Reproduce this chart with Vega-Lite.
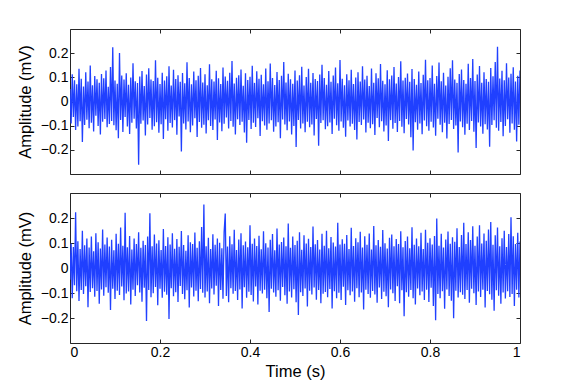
{
"$schema": "https://vega.github.io/schema/vega-lite/v6.json",
"padding": {"left": 17, "top": 28, "right": 30, "bottom": 0},
"background": "white",
"config": {
  "font": "Liberation Sans",
  "view": {"stroke": null},
  "axis": {"labelFont": "Liberation Sans", "labelFontSize": 14, "labelColor": "#000000", "titleFont": "Liberation Sans", "titleFontSize": 16.5, "titleFontWeight": "normal", "titleColor": "#000000", "domainColor": "#262626", "domainWidth": 1, "tickColor": "#262626", "tickSize": -4, "grid": false, "labelPadding": 6}
},
"data": {"values": [
{"t":0,"a":0.052,"b":-0.047},{"t":0.0025,"a":-0.091,"b":0.098},{"t":0.005,"a":0.113,"b":-0.121},{"t":0.0075,"a":-0.064,"b":0.084},
{"t":0.01,"a":0.088,"b":-0.069},{"t":0.0125,"a":-0.118,"b":0.223},{"t":0.015,"a":0.071,"b":-0.093},{"t":0.0175,"a":-0.103,"b":0.107},
{"t":0.02,"a":0.135,"b":-0.132},{"t":0.0225,"a":-0.082,"b":0.076},{"t":0.025,"a":0.094,"b":-0.088},{"t":0.0275,"a":-0.168,"b":0.149},
{"t":0.03,"a":0.062,"b":-0.104},{"t":0.0325,"a":-0.097,"b":0.091},{"t":0.035,"a":0.121,"b":-0.073},{"t":0.0375,"a":-0.075,"b":0.118},
{"t":0.04,"a":0.083,"b":-0.157},{"t":0.0425,"a":-0.111,"b":0.082},{"t":0.045,"a":0.149,"b":-0.096},{"t":0.0475,"a":-0.088,"b":0.126},
{"t":0.05,"a":0.067,"b":-0.081},{"t":0.0525,"a":-0.124,"b":0.067},{"t":0.055,"a":0.105,"b":-0.115},{"t":0.0575,"a":-0.059,"b":0.139},
{"t":0.06,"a":0.092,"b":-0.092},{"t":0.0625,"a":-0.101,"b":0.103},{"t":0.065,"a":0.078,"b":-0.143},{"t":0.0675,"a":-0.137,"b":0.078},
{"t":0.07,"a":0.114,"b":-0.086},{"t":0.0725,"a":-0.084,"b":0.154},{"t":0.075,"a":0.096,"b":-0.111},{"t":0.0775,"a":-0.072,"b":0.094},
{"t":0.08,"a":0.128,"b":-0.077},{"t":0.0825,"a":-0.106,"b":0.122},{"t":0.085,"a":0.061,"b":-0.099},{"t":0.0875,"a":-0.093,"b":0.086},
{"t":0.09,"a":0.143,"b":-0.168},{"t":0.0925,"a":-0.081,"b":0.113},{"t":0.095,"a":0.224,"b":-0.083},{"t":0.0975,"a":-0.098,"b":0.071},
{"t":0.1,"a":0.087,"b":-0.124},{"t":0.1025,"a":-0.119,"b":0.137},{"t":0.105,"a":0.073,"b":-0.091},{"t":0.1075,"a":-0.152,"b":0.097},
{"t":0.11,"a":0.201,"b":-0.108},{"t":0.1125,"a":-0.077,"b":0.162},{"t":0.115,"a":0.108,"b":-0.074},{"t":0.1175,"a":-0.126,"b":0.089},
{"t":0.12,"a":0.091,"b":-0.129},{"t":0.1225,"a":-0.064,"b":0.221},{"t":0.125,"a":0.117,"b":-0.102},{"t":0.1275,"a":-0.103,"b":0.083},
{"t":0.13,"a":0.069,"b":-0.094},{"t":0.1325,"a":-0.134,"b":0.128},{"t":0.135,"a":0.099,"b":-0.146},{"t":0.1375,"a":-0.088,"b":0.074},
{"t":0.14,"a":0.158,"b":-0.087},{"t":0.1425,"a":-0.071,"b":0.118},{"t":0.145,"a":0.084,"b":-0.112},{"t":0.1475,"a":-0.112,"b":0.096},
{"t":0.15,"a":0.076,"b":-0.069},{"t":0.1525,"a":-0.262,"b":0.143},{"t":0.155,"a":0.103,"b":-0.098},{"t":0.1575,"a":-0.092,"b":0.081},
{"t":0.16,"a":0.126,"b":-0.135},{"t":0.1625,"a":-0.079,"b":0.109},{"t":0.165,"a":0.064,"b":-0.079},{"t":0.1675,"a":-0.141,"b":0.092},
{"t":0.17,"a":0.112,"b":-0.212},{"t":0.1725,"a":-0.095,"b":0.126},{"t":0.175,"a":0.138,"b":-0.088},{"t":0.1775,"a":-0.068,"b":0.219},
{"t":0.18,"a":0.091,"b":-0.117},{"t":0.1825,"a":-0.117,"b":0.087},{"t":0.185,"a":0.085,"b":-0.101},{"t":0.1875,"a":-0.102,"b":0.134},
{"t":0.19,"a":0.171,"b":-0.076},{"t":0.1925,"a":-0.086,"b":0.098},{"t":0.195,"a":0.098,"b":-0.149},{"t":0.1975,"a":-0.129,"b":0.111},
{"t":0.2,"a":0.072,"b":-0.083},{"t":0.2025,"a":-0.094,"b":0.072},{"t":0.205,"a":0.119,"b":-0.119},{"t":0.2075,"a":-0.155,"b":0.156},
{"t":0.21,"a":0.087,"b":-0.095},{"t":0.2125,"a":-0.073,"b":0.088},{"t":0.215,"a":0.104,"b":-0.107},{"t":0.2175,"a":-0.121,"b":0.123},
{"t":0.22,"a":0.146,"b":-0.204},{"t":0.2225,"a":-0.089,"b":0.094},{"t":0.225,"a":0.066,"b":-0.081},{"t":0.2275,"a":-0.108,"b":0.139},
{"t":0.23,"a":0.131,"b":-0.113},{"t":0.2325,"a":-0.077,"b":0.077},{"t":0.235,"a":0.093,"b":-0.097},{"t":0.2375,"a":-0.138,"b":0.116},
{"t":0.24,"a":0.109,"b":-0.136},{"t":0.2425,"a":-0.062,"b":0.085},{"t":0.245,"a":0.082,"b":-0.072},{"t":0.2475,"a":-0.207,"b":0.148},
{"t":0.25,"a":0.118,"b":-0.104},{"t":0.2525,"a":-0.091,"b":0.092},{"t":0.255,"a":0.075,"b":-0.125},{"t":0.2575,"a":-0.116,"b":0.069},
{"t":0.26,"a":0.162,"b":-0.089},{"t":0.2625,"a":-0.083,"b":0.131},{"t":0.265,"a":0.097,"b":-0.158},{"t":0.2675,"a":-0.127,"b":0.103},
{"t":0.27,"a":0.071,"b":-0.078},{"t":0.2725,"a":-0.099,"b":0.096},{"t":0.275,"a":0.124,"b":-0.114},{"t":0.2775,"a":-0.069,"b":0.142},
{"t":0.28,"a":0.088,"b":-0.091},{"t":0.2825,"a":-0.147,"b":0.081},{"t":0.285,"a":0.106,"b":-0.133},{"t":0.2875,"a":-0.085,"b":0.107},
{"t":0.29,"a":0.139,"b":-0.084},{"t":0.2925,"a":-0.109,"b":0.164},{"t":0.295,"a":0.079,"b":-0.099},{"t":0.2975,"a":-0.096,"b":0.254},
{"t":0.3,"a":0.113,"b":-0.118},{"t":0.3025,"a":-0.132,"b":0.087},{"t":0.305,"a":0.067,"b":-0.094},{"t":0.3075,"a":-0.078,"b":0.121},
{"t":0.31,"a":0.154,"b":-0.141},{"t":0.3125,"a":-0.101,"b":0.076},{"t":0.315,"a":0.092,"b":-0.082},{"t":0.3175,"a":-0.118,"b":0.135},
{"t":0.32,"a":0.083,"b":-0.106},{"t":0.3225,"a":-0.074,"b":0.093},{"t":0.325,"a":0.127,"b":-0.071},{"t":0.3275,"a":-0.159,"b":0.118},
{"t":0.33,"a":0.096,"b":-0.152},{"t":0.3325,"a":-0.087,"b":0.101},{"t":0.335,"a":0.072,"b":-0.088},{"t":0.3375,"a":-0.123,"b":0.079},
{"t":0.34,"a":0.141,"b":-0.123},{"t":0.3425,"a":-0.092,"b":0.144},{"t":0.345,"a":0.103,"b":0.218},{"t":0.3475,"a":-0.066,"b":-0.112},
{"t":0.35,"a":0.086,"b":0.086},{"t":0.3525,"a":-0.112,"b":-0.137},{"t":0.355,"a":0.119,"b":0.127},{"t":0.3575,"a":-0.081,"b":-0.081},
{"t":0.36,"a":0.168,"b":0.095},{"t":0.3625,"a":-0.104,"b":-0.103},{"t":0.365,"a":0.074,"b":0.153},{"t":0.3675,"a":-0.136,"b":-0.092},
{"t":0.37,"a":0.098,"b":0.072},{"t":0.3725,"a":-0.073,"b":-0.128},{"t":0.375,"a":0.109,"b":0.114},{"t":0.3775,"a":-0.097,"b":-0.086},
{"t":0.38,"a":0.132,"b":0.139},{"t":0.3825,"a":-0.084,"b":-0.162},{"t":0.385,"a":0.065,"b":0.091},{"t":0.3875,"a":-0.128,"b":-0.077},
{"t":0.39,"a":0.117,"b":0.106},{"t":0.3925,"a":-0.171,"b":-0.119},{"t":0.395,"a":0.089,"b":0.083},{"t":0.3975,"a":-0.076,"b":-0.095},
{"t":0.4,"a":0.102,"b":0.171},{"t":0.4025,"a":-0.114,"b":-0.108},{"t":0.405,"a":0.148,"b":0.097},{"t":0.4075,"a":-0.088,"b":-0.134},
{"t":0.41,"a":0.077,"b":0.118},{"t":0.4125,"a":-0.105,"b":-0.074},{"t":0.415,"a":0.125,"b":0.088},{"t":0.4175,"a":-0.069,"b":-0.146},
{"t":0.42,"a":0.094,"b":0.129},{"t":0.4225,"a":-0.143,"b":-0.091},{"t":0.425,"a":0.111,"b":0.075},{"t":0.4275,"a":-0.082,"b":-0.102},
{"t":0.43,"a":0.071,"b":0.147},{"t":0.4325,"a":-0.099,"b":-0.087},{"t":0.435,"a":0.136,"b":0.099},{"t":0.4375,"a":-0.117,"b":-0.121},
{"t":0.44,"a":0.084,"b":0.082},{"t":0.4425,"a":-0.091,"b":-0.176},{"t":0.445,"a":0.157,"b":0.113},{"t":0.4475,"a":-0.078,"b":-0.083},
{"t":0.45,"a":0.097,"b":0.136},{"t":0.4525,"a":-0.125,"b":-0.098},{"t":0.455,"a":0.068,"b":0.071},{"t":0.4575,"a":-0.103,"b":-0.115},
{"t":0.46,"a":0.122,"b":0.158},{"t":0.4625,"a":-0.086,"b":-0.089},{"t":0.465,"a":0.089,"b":0.094},{"t":0.4675,"a":-0.152,"b":-0.131},
{"t":0.47,"a":0.106,"b":0.104},{"t":0.4725,"a":-0.074,"b":-0.076},{"t":0.475,"a":0.163,"b":0.122},{"t":0.4775,"a":-0.095,"b":-0.109},
{"t":0.48,"a":0.079,"b":0.087},{"t":0.4825,"a":-0.119,"b":-0.143},{"t":0.485,"a":0.115,"b":0.178},{"t":0.4875,"a":-0.083,"b":-0.094},
{"t":0.49,"a":0.092,"b":0.081},{"t":0.4925,"a":-0.137,"b":-0.118},{"t":0.495,"a":0.073,"b":0.126},{"t":0.4975,"a":-0.101,"b":-0.085},
{"t":0.5,"a":0.128,"b":0.092},{"t":0.5025,"a":-0.188,"b":-0.137},{"t":0.505,"a":0.087,"b":0.109},{"t":0.5075,"a":-0.076,"b":-0.188},
{"t":0.51,"a":0.109,"b":0.143},{"t":0.5125,"a":-0.112,"b":-0.097},{"t":0.515,"a":0.144,"b":0.073},{"t":0.5175,"a":-0.091,"b":-0.112},
{"t":0.52,"a":0.066,"b":0.131},{"t":0.5225,"a":-0.127,"b":-0.082},{"t":0.525,"a":0.101,"b":0.098},{"t":0.5275,"a":-0.084,"b":-0.154},
{"t":0.53,"a":0.135,"b":0.117},{"t":0.5325,"a":-0.106,"b":-0.091},{"t":0.535,"a":0.078,"b":0.084},{"t":0.5375,"a":-0.095,"b":-0.106},
{"t":0.54,"a":0.118,"b":0.166},{"t":0.5425,"a":-0.141,"b":-0.078},{"t":0.545,"a":0.093,"b":0.095},{"t":0.5475,"a":-0.072,"b":-0.127},
{"t":0.55,"a":0.085,"b":0.112},{"t":0.5525,"a":-0.183,"b":-0.088},{"t":0.555,"a":0.112,"b":0.074},{"t":0.5575,"a":-0.089,"b":-0.141},
{"t":0.56,"a":0.152,"b":0.137},{"t":0.5625,"a":-0.078,"b":-0.103},{"t":0.565,"a":0.097,"b":0.089},{"t":0.5675,"a":-0.115,"b":-0.096},
{"t":0.57,"a":0.069,"b":0.149},{"t":0.5725,"a":-0.102,"b":-0.117},{"t":0.575,"a":0.126,"b":0.079},{"t":0.5775,"a":-0.087,"b":-0.084},
{"t":0.58,"a":0.082,"b":0.124},{"t":0.5825,"a":-0.134,"b":-0.162},{"t":0.585,"a":0.108,"b":0.102},{"t":0.5875,"a":-0.071,"b":-0.093},
{"t":0.59,"a":0.141,"b":0.086},{"t":0.5925,"a":-0.098,"b":-0.121},{"t":0.595,"a":0.075,"b":0.181},{"t":0.5975,"a":-0.121,"b":-0.099},
{"t":0.6,"a":0.172,"b":0.094},{"t":0.6025,"a":-0.083,"b":-0.128},{"t":0.605,"a":0.094,"b":0.115},{"t":0.6075,"a":-0.109,"b":-0.075},
{"t":0.61,"a":0.067,"b":0.097},{"t":0.6125,"a":-0.146,"b":-0.148},{"t":0.615,"a":0.113,"b":0.132},{"t":0.6175,"a":-0.079,"b":-0.089},
{"t":0.62,"a":0.088,"b":0.076},{"t":0.6225,"a":-0.103,"b":-0.109},{"t":0.625,"a":0.131,"b":0.161},{"t":0.6275,"a":-0.092,"b":-0.094},
{"t":0.63,"a":0.072,"b":0.088},{"t":0.6325,"a":-0.118,"b":-0.135},{"t":0.635,"a":0.099,"b":0.119},{"t":0.6375,"a":-0.157,"b":-0.081},
{"t":0.64,"a":0.121,"b":0.103},{"t":0.6425,"a":-0.085,"b":-0.117},{"t":0.645,"a":0.083,"b":0.145},{"t":0.6475,"a":-0.097,"b":-0.098},
{"t":0.65,"a":0.146,"b":0.082},{"t":0.6525,"a":-0.074,"b":-0.166},{"t":0.655,"a":0.091,"b":0.127},{"t":0.6575,"a":-0.128,"b":-0.087},
{"t":0.66,"a":0.106,"b":0.093},{"t":0.6625,"a":-0.088,"b":-0.104},{"t":0.665,"a":0.064,"b":0.138},{"t":0.6675,"a":-0.111,"b":-0.119},
{"t":0.67,"a":0.137,"b":0.074},{"t":0.6725,"a":-0.094,"b":-0.092},{"t":0.675,"a":0.078,"b":0.168},{"t":0.6775,"a":-0.139,"b":-0.106},
{"t":0.68,"a":0.117,"b":0.091},{"t":0.6825,"a":-0.068,"b":-0.139},{"t":0.685,"a":0.096,"b":0.112},{"t":0.6875,"a":-0.107,"b":-0.078},
{"t":0.69,"a":0.155,"b":0.085},{"t":0.6925,"a":-0.082,"b":-0.124},{"t":0.695,"a":0.086,"b":0.152},{"t":0.6975,"a":-0.124,"b":-0.095},
{"t":0.7,"a":0.071,"b":0.099},{"t":0.7025,"a":-0.099,"b":-0.113},{"t":0.705,"a":0.129,"b":0.078},{"t":0.7075,"a":-0.163,"b":-0.157},
{"t":0.71,"a":0.092,"b":0.121},{"t":0.7125,"a":-0.077,"b":-0.086},{"t":0.715,"a":0.108,"b":0.134},{"t":0.7175,"a":-0.113,"b":-0.101},
{"t":0.72,"a":0.143,"b":0.087},{"t":0.7225,"a":-0.089,"b":-0.132},{"t":0.725,"a":0.074,"b":0.116},{"t":0.7275,"a":-0.126,"b":-0.073},
{"t":0.73,"a":0.101,"b":0.096},{"t":0.7325,"a":-0.081,"b":-0.141},{"t":0.735,"a":0.166,"b":0.147},{"t":0.7375,"a":-0.104,"b":-0.089},
{"t":0.74,"a":0.087,"b":0.083},{"t":0.7425,"a":-0.131,"b":-0.193},{"t":0.745,"a":0.098,"b":0.108},{"t":0.7475,"a":-0.072,"b":-0.097},
{"t":0.75,"a":0.116,"b":0.126},{"t":0.7525,"a":-0.095,"b":-0.115},{"t":0.755,"a":0.082,"b":0.079},{"t":0.7575,"a":-0.148,"b":-0.088},
{"t":0.76,"a":0.134,"b":0.163},{"t":0.7625,"a":-0.203,"b":-0.121},{"t":0.765,"a":0.093,"b":0.093},{"t":0.7675,"a":-0.086,"b":-0.146},
{"t":0.77,"a":0.069,"b":0.118},{"t":0.7725,"a":-0.117,"b":-0.082},{"t":0.775,"a":0.124,"b":0.087},{"t":0.7775,"a":-0.091,"b":-0.109},
{"t":0.78,"a":0.076,"b":0.141},{"t":0.7825,"a":-0.135,"b":-0.094},{"t":0.785,"a":0.111,"b":0.076},{"t":0.7875,"a":-0.079,"b":-0.128},
{"t":0.79,"a":0.173,"b":0.153},{"t":0.7925,"a":-0.102,"b":-0.087},{"t":0.795,"a":0.088,"b":0.101},{"t":0.7975,"a":-0.121,"b":-0.136},
{"t":0.8,"a":0.097,"b":0.119},{"t":0.8025,"a":-0.084,"b":-0.079},{"t":0.805,"a":0.149,"b":0.094},{"t":0.8075,"a":-0.108,"b":-0.152},
{"t":0.81,"a":0.073,"b":0.128},{"t":0.8125,"a":-0.142,"b":-0.209},{"t":0.815,"a":0.105,"b":0.198},{"t":0.8175,"a":-0.071,"b":-0.104},
{"t":0.82,"a":0.161,"b":0.089},{"t":0.8225,"a":-0.096,"b":-0.121},{"t":0.825,"a":0.084,"b":0.137},{"t":0.8275,"a":-0.127,"b":-0.093},
{"t":0.83,"a":0.119,"b":0.082},{"t":0.8325,"a":-0.088,"b":-0.163},{"t":0.835,"a":0.066,"b":0.114},{"t":0.8375,"a":-0.153,"b":-0.086},
{"t":0.84,"a":0.102,"b":0.146},{"t":0.8425,"a":-0.093,"b":-0.112},{"t":0.845,"a":0.138,"b":0.097},{"t":0.8475,"a":-0.076,"b":-0.131},
{"t":0.85,"a":0.171,"b":0.123},{"t":0.8525,"a":-0.114,"b":-0.201},{"t":0.855,"a":0.091,"b":0.105},{"t":0.8575,"a":-0.099,"b":-0.091},
{"t":0.86,"a":0.077,"b":0.159},{"t":0.8625,"a":-0.211,"b":-0.118},{"t":0.865,"a":0.114,"b":0.084},{"t":0.8675,"a":-0.083,"b":-0.097},
{"t":0.87,"a":0.132,"b":0.132},{"t":0.8725,"a":-0.106,"b":-0.107},{"t":0.875,"a":0.089,"b":0.181},{"t":0.8775,"a":-0.138,"b":-0.124},
{"t":0.88,"a":0.073,"b":0.096},{"t":0.8825,"a":-0.092,"b":-0.088},{"t":0.885,"a":0.156,"b":0.143},{"t":0.8875,"a":-0.118,"b":-0.139},
{"t":0.89,"a":0.097,"b":0.112},{"t":0.8925,"a":-0.081,"b":-0.083},{"t":0.895,"a":0.176,"b":0.167},{"t":0.8975,"a":-0.125,"b":-0.101},
{"t":0.9,"a":0.085,"b":0.089},{"t":0.9025,"a":-0.192,"b":-0.148},{"t":0.905,"a":0.112,"b":0.126},{"t":0.9075,"a":-0.087,"b":-0.094},
{"t":0.91,"a":0.147,"b":0.171},{"t":0.9125,"a":-0.103,"b":-0.116},{"t":0.915,"a":0.078,"b":0.098},{"t":0.9175,"a":-0.133,"b":-0.087},
{"t":0.92,"a":0.121,"b":0.138},{"t":0.9225,"a":-0.094,"b":-0.158},{"t":0.925,"a":0.093,"b":0.109},{"t":0.9275,"a":-0.116,"b":-0.092},
{"t":0.93,"a":0.082,"b":0.154},{"t":0.9325,"a":-0.187,"b":-0.105},{"t":0.935,"a":0.139,"b":0.184},{"t":0.9375,"a":-0.097,"b":-0.127},
{"t":0.94,"a":0.104,"b":0.093},{"t":0.9425,"a":-0.078,"b":-0.171},{"t":0.945,"a":0.163,"b":0.131},{"t":0.9475,"a":-0.109,"b":-0.089},
{"t":0.95,"a":0.226,"b":0.162},{"t":0.9525,"a":-0.121,"b":-0.111},{"t":0.955,"a":0.095,"b":0.087},{"t":0.9575,"a":-0.085,"b":-0.143},
{"t":0.96,"a":0.127,"b":0.119},{"t":0.9625,"a":-0.144,"b":-0.098},{"t":0.965,"a":0.088,"b":0.149},{"t":0.9675,"a":-0.101,"b":-0.122},
{"t":0.97,"a":0.158,"b":0.084},{"t":0.9725,"a":-0.073,"b":-0.093},{"t":0.975,"a":0.099,"b":0.136},{"t":0.9775,"a":-0.129,"b":-0.116},
{"t":0.98,"a":0.115,"b":0.203},{"t":0.9825,"a":-0.091,"b":-0.104},{"t":0.985,"a":0.142,"b":0.127},{"t":0.9875,"a":-0.117,"b":-0.152},
{"t":0.99,"a":0.083,"b":0.096},{"t":0.9925,"a":-0.165,"b":-0.087},{"t":0.995,"a":0.107,"b":0.141},{"t":0.9975,"a":-0.096,"b":-0.118},
{"t":1,"a":0.128,"b":0.106}
]},
"spacing": 17,
"vconcat": [
  {"width": 450, "height": 145,
   "layer": [
     {"mark": {"type": "line", "color": "#2040ff", "strokeWidth": 1.3, "clip": true},
      "encoding": {
        "x": {"field": "t", "type": "quantitative", "scale": {"domain": [0, 1], "nice": false, "zero": false}, "axis": {"orient": "bottom", "values": [0, 0.2, 0.4, 0.6, 0.8, 1], "labels": false, "title": null}},
        "y": {"field": "a", "type": "quantitative", "scale": {"domain": [-0.3, 0.3], "nice": false, "zero": false}, "axis": {"orient": "left", "values": [-0.2, -0.1, 0, 0.1, 0.2], "format": "~g", "title": "Amplitude (mV)", "titlePadding": 7}}
      }},
     {"mark": {"type": "line", "opacity": 0},
      "encoding": {
        "x": {"field": "t", "type": "quantitative", "scale": {"domain": [0, 1], "nice": false, "zero": false}, "axis": {"orient": "top", "values": [0, 0.2, 0.4, 0.6, 0.8, 1], "labels": false, "title": null}},
        "y": {"field": "a", "type": "quantitative", "scale": {"domain": [-0.3, 0.3], "nice": false, "zero": false}, "axis": {"orient": "right", "values": [-0.2, -0.1, 0, 0.1, 0.2], "labels": false, "title": null}}
      }}
   ],
   "resolve": {"axis": {"x": "independent", "y": "independent"}}
  },
  {"width": 450, "height": 150,
   "layer": [
     {"mark": {"type": "line", "color": "#2040ff", "strokeWidth": 1.3, "clip": true},
      "encoding": {
        "x": {"field": "t", "type": "quantitative", "scale": {"domain": [0, 1], "nice": false, "zero": false}, "axis": {"orient": "bottom", "values": [0, 0.2, 0.4, 0.6, 0.8, 1], "format": "~g", "title": "Time (s)", "titlePadding": 4}},
        "y": {"field": "b", "type": "quantitative", "scale": {"domain": [-0.3, 0.3], "nice": false, "zero": false}, "axis": {"orient": "left", "values": [-0.2, -0.1, 0, 0.1, 0.2], "format": "~g", "title": "Amplitude (mV)", "titlePadding": 7}}
      }},
     {"mark": {"type": "line", "opacity": 0},
      "encoding": {
        "x": {"field": "t", "type": "quantitative", "scale": {"domain": [0, 1], "nice": false, "zero": false}, "axis": {"orient": "top", "values": [0, 0.2, 0.4, 0.6, 0.8, 1], "labels": false, "title": null}},
        "y": {"field": "b", "type": "quantitative", "scale": {"domain": [-0.3, 0.3], "nice": false, "zero": false}, "axis": {"orient": "right", "values": [-0.2, -0.1, 0, 0.1, 0.2], "labels": false, "title": null}}
      }}
   ],
   "resolve": {"axis": {"x": "independent", "y": "independent"}}
  }
]
}
